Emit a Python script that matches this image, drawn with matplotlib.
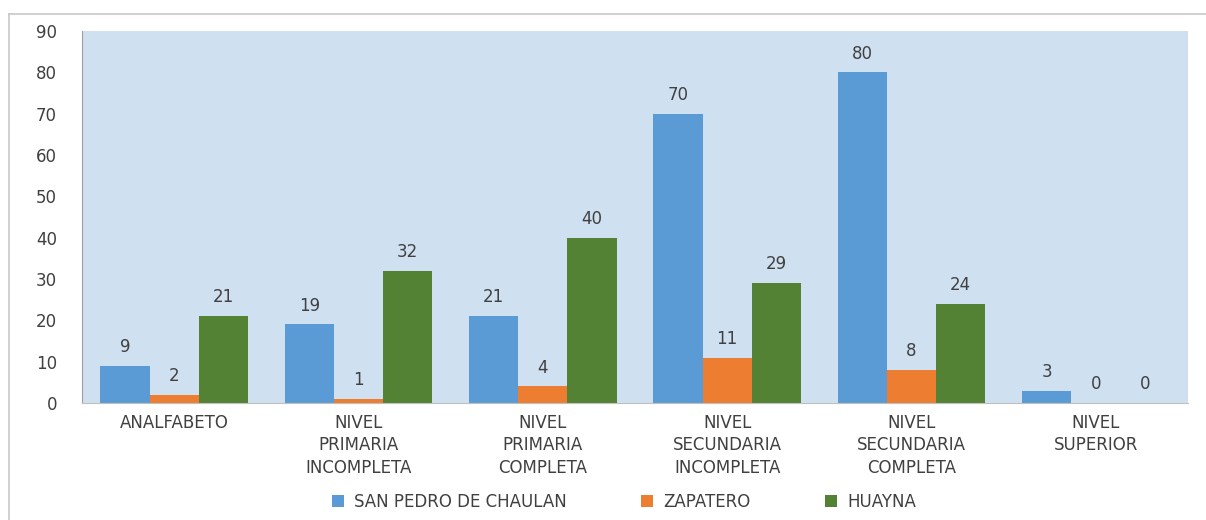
import matplotlib
matplotlib.use("Agg")
import matplotlib.pyplot as plt
import numpy as np
from matplotlib.lines import Line2D

categories = ["ANALFABETO", "NIVEL\nPRIMARIA\nINCOMPLETA", "NIVEL\nPRIMARIA\nCOMPLETA",
              "NIVEL\nSECUNDARIA\nINCOMPLETA", "NIVEL\nSECUNDARIA\nCOMPLETA", "NIVEL\nSUPERIOR"]
series_names = ["SAN PEDRO DE CHAULAN", "ZAPATERO", "HUAYNA"]
san_pedro = [9, 19, 21, 70, 80, 3]
zapatero = [2, 1, 4, 11, 8, 0]
huayna = [21, 32, 40, 29, 24, 0]
colors = ["#5b9bd5", "#ed7d31", "#548235"]

plt.rcParams['font.family'] = ['DejaVu Sans']
txt = "#404040"

fig = plt.figure(figsize=(12.06, 5.2), dpi=100)
ax = fig.add_axes([82/1206, 117/520, (1188-82)/1206, (403-31)/520])
ax.set_facecolor("#cfe0f1")

x = np.arange(len(categories))
w = 1/3.75
for i, (vals, name) in enumerate(zip([san_pedro, zapatero, huayna], series_names)):
    pos = x + (i-1)*w
    ax.bar(pos, vals, w, color=colors[i], label=name, zorder=2)
    for p, v in zip(pos, vals):
        ax.annotate(str(v), (p, v), xytext=(0, 7), textcoords="offset points",
                    ha="center", va="bottom", fontsize=12, color=txt)

ax.set_xlim(-0.5, len(categories)-0.5)
ax.set_ylim(0, 90)
ax.set_yticks(range(0, 91, 10))
ax.set_xticks(x)
ax.set_xticklabels(categories, fontsize=12, color=txt, linespacing=1.3)
ax.tick_params(axis="y", labelsize=12, labelcolor=txt, length=0, pad=18)
ax.tick_params(axis="x", length=0, pad=8)
for s in ["top", "right"]:
    ax.spines[s].set_visible(False)
ax.spines["left"].set_color("#a0a0a0")
ax.spines["bottom"].set_color("#c0c0c0")

ax.legend(loc="lower center", bbox_to_anchor=(0.49, -0.33), bbox_transform=ax.transAxes,
          ncol=3, frameon=False, fontsize=12, handlelength=0.7, handleheight=0.7,
          handletextpad=0.6, columnspacing=4.5, labelcolor=txt)

# chart border
fig.add_artist(Line2D([9/1206, 1], [1-14/520, 1-14/520], color="#c8c8c8", lw=1.2))
fig.add_artist(Line2D([9/1206, 9/1206], [0, 1-14/520], color="#c8c8c8", lw=1.2))

fig.savefig("out.png", dpi=100)
